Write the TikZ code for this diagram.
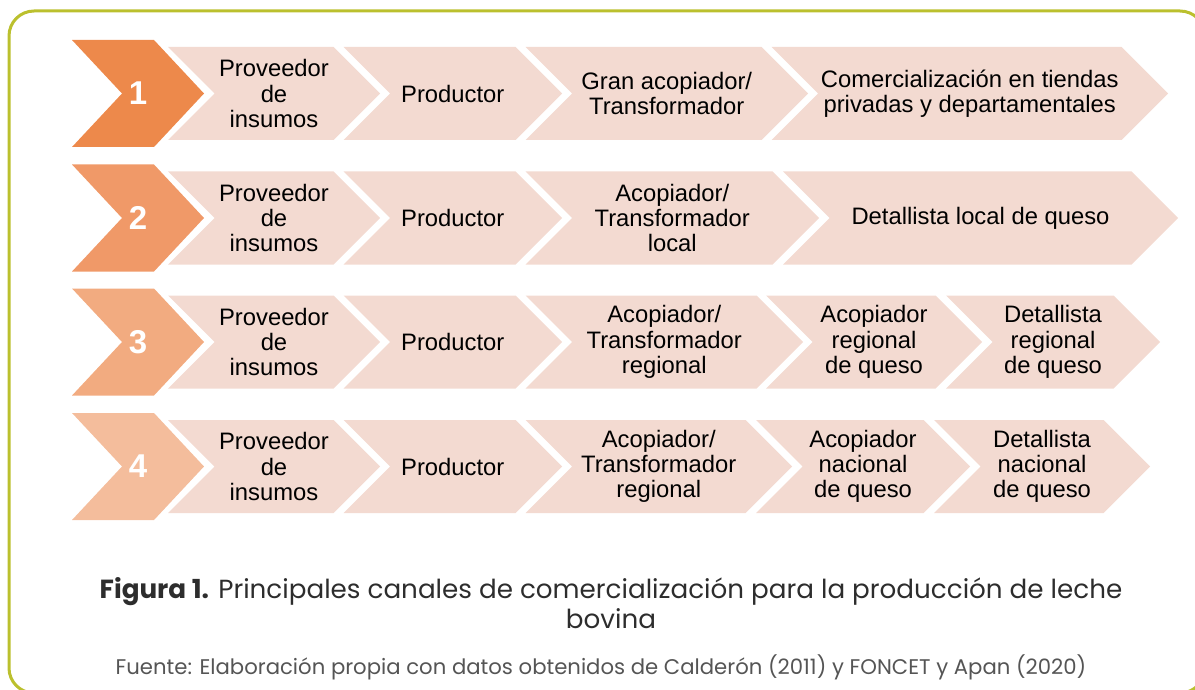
\documentclass[tikz,border=0pt]{standalone}
\usepackage{fontspec}
\setmainfont{Liberation Sans}
\newfontfamily\captionfont{Poppins}

\newlength{\du}
\setlength{\du}{0.5pt}

\definecolor{framecolor}{RGB}{187,192,46}
\definecolor{numone}{RGB}{237,137,75}
\definecolor{numtwo}{RGB}{240,153,104}
\definecolor{numthree}{RGB}{242,171,128}
\definecolor{numfour}{RGB}{244,189,156}
\definecolor{stepcolor}{RGB}{243,218,209}
\definecolor{captioncolor}{RGB}{45,45,45}
\definecolor{sourcecolor}{RGB}{85,85,85}

% chevron: left x, tip x, centre y, half height, point depth, colour
\newcommand{\chevfill}[6]{%
\fill[#6] (#1,#3-#4)--(#2-#5,#3-#4)--(#2,#3)--(#2-#5,#3+#4)--(#1,#3+#4)--(#1+#5,#3)--cycle;}

\tikzset{
  steptext/.style={align=center, inner sep=0pt, text=black,
    font=\fontsize{11.9}{12.6}\selectfont},
  numtext/.style={inner sep=0pt, text=white,
    font=\bfseries\fontsize{16.5}{16.5}\selectfont},
  captext/.style={align=center, inner sep=0pt, text=captioncolor,
    font=\captionfont\fontsize{13.1}{15}\selectfont},
  srctext/.style={inner sep=0pt, text=sourcecolor,
    font=\captionfont\fontsize{10.6}{12}\selectfont}
}

\begin{document}
\begin{tikzpicture}[x=\du,y=-\du]
\useasboundingbox (0,0) rectangle (1195,690);
\clip (0,0) rectangle (1195,690);
% frame
\draw[framecolor, line width=1.5pt, rounded corners=12.5pt] (9,11) rectangle (1205,693);

% channel 1
\chevfill{72}{204}{93.5}{53.5}{50}{numone}
\node[numtext] (n1) at (138,93.5) {1};
\chevfill{168}{380}{93.5}{46.5}{46.5}{stepcolor}
\node[steptext] (r1a) at (274,93.5) {Proveedor\\de\\insumos};
\chevfill{343.5}{562}{93.5}{46.5}{46.5}{stepcolor}
\node[steptext] (r1b) at (452.75,93.5) {Productor};
\chevfill{525.5}{808}{93.5}{46.5}{46.5}{stepcolor}
\node[steptext] (r1c) at (666.75,93.5) {Gran acopiador/\\Transformador};
\chevfill{771.5}{1168}{93.5}{46.5}{46.5}{stepcolor}
\node[steptext] (r1d) at (969.75,93.5) {Comercialización en tiendas\\privadas y departamentales};

% channel 2
\chevfill{72}{204}{218}{53.5}{50}{numtwo}
\node[numtext] (n2) at (138,218) {2};
\chevfill{168}{380}{218}{46.5}{46.5}{stepcolor}
\node[steptext] (r2a) at (274,218) {Proveedor\\de\\insumos};
\chevfill{343.5}{562}{218}{46.5}{46.5}{stepcolor}
\node[steptext] (r2b) at (452.75,218) {Productor};
\chevfill{525.5}{819}{218}{46.5}{46.5}{stepcolor}
\node[steptext] (r2c) at (672.25,218) {Acopiador/\\Transformador\\local};
\chevfill{783}{1178}{218}{46.5}{46.5}{stepcolor}
\node[steptext] (r2d) at (980.5,218) {Detallista local de queso};

% channel 3
\chevfill{72}{204}{342}{53.5}{50}{numthree}
\node[numtext] (n3) at (138,342) {3};
\chevfill{168}{380}{342}{46.5}{46.5}{stepcolor}
\node[steptext] (r3a) at (274,342) {Proveedor\\de\\insumos};
\chevfill{343.5}{562}{342}{46.5}{46.5}{stepcolor}
\node[steptext] (r3b) at (452.75,342) {Productor};
\chevfill{525.5}{803}{342}{46.5}{46.5}{stepcolor}
\node[steptext] (r3c) at (664.25,342) {Acopiador/\\Transformador\\regional};
\chevfill{766}{982}{342}{46.5}{46.5}{stepcolor}
\node[steptext] (r3d) at (874,342) {Acopiador\\regional\\de queso};
\chevfill{946}{1160}{342}{46.5}{46.5}{stepcolor}
\node[steptext] (r3e) at (1053,342) {Detallista\\regional\\de queso};

% channel 4
\chevfill{72}{204}{466.5}{53.5}{50}{numfour}
\node[numtext] (n4) at (138,466.5) {4};
\chevfill{168}{380}{466.5}{46.5}{46.5}{stepcolor}
\node[steptext] (r4a) at (274,466.5) {Proveedor\\de\\insumos};
\chevfill{343.5}{562}{466.5}{46.5}{46.5}{stepcolor}
\node[steptext] (r4b) at (452.75,466.5) {Productor};
\chevfill{525.5}{792}{466.5}{46.5}{46.5}{stepcolor}
\node[steptext] (r4c) at (658.75,466.5) {Acopiador/\\Transformador\\regional};
\chevfill{756}{970}{466.5}{46.5}{46.5}{stepcolor}
\node[steptext] (r4d) at (863,466.5) {Acopiador\\nacional\\de queso};
\chevfill{934}{1150}{466.5}{46.5}{46.5}{stepcolor}
\node[steptext] (r4e) at (1042,466.5) {Detallista\\nacional\\de queso};

% caption
\node[captext] (cap) at (611,603) {\textbf{Figura 1.} Principales canales de comercialización para la producción de leche\\bovina};
\node[srctext] (src) at (601,667) {Fuente: Elaboración propia con datos obtenidos de Calderón (2011) y FONCET y Apan (2020)};
\end{tikzpicture}
\end{document}
